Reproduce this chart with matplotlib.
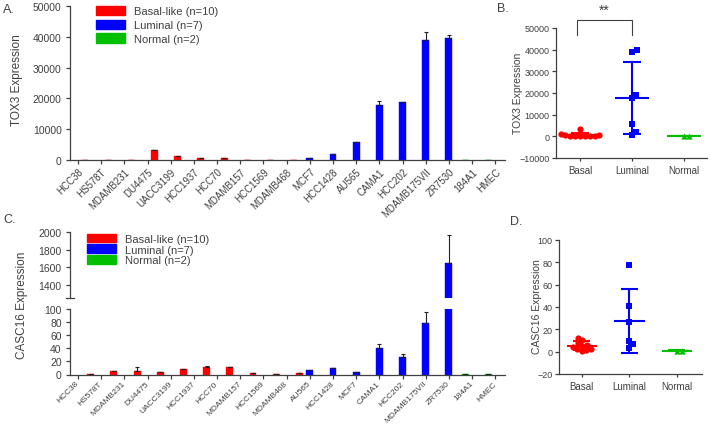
import numpy as np
import matplotlib
matplotlib.use("Agg")
import matplotlib.pyplot as plt
from matplotlib.patches import Patch

# ---------------- data ----------------
cells_A = ["HCC38", "HS578T", "MDAMB231", "DU4475", "UACC3199", "HCC1937", "HCC70",
           "MDAMB157", "HCC1569", "MDAMB468", "MCF7", "HCC1428", "AU565", "CAMA1",
           "HCC202", "MDAMB175VII", "ZR7530", "184A1", "HMEC"]
cells_C = ["HCC38", "HS578T", "MDAMB231", "DU4475", "UACC3199", "HCC1937", "HCC70",
           "MDAMB157", "HCC1569", "MDAMB468", "AU565", "HCC1428", "MCF7", "CAMA1",
           "HCC202", "MDAMB175VII", "ZR7530", "184A1", "HMEC"]
subtype = ["Basal"] * 10 + ["Luminal"] * 7 + ["Normal"] * 2

tox3_mean = [0, 0, 0, 3250, 1300, 540, 540, 0, 0, 0,
             540, 1840, 5740, 17900, 18960, 39000, 39650, 0, 0]
tox3_err = [0, 0, 0, 150, 80, 0, 0, 0, 0, 0,
            0, 0, 0, 1200, 0, 2500, 1050, 0, 0]

casc16_mean = [0.5, 5, 5.6, 4, 8.1, 12.2, 10.7, 2, 1.5, 2,
               6.6, 9.7, 3.5, 40.7, 27, 77.9, 1650, 0.5, 1]
casc16_err = [0, 0, 6.1, 0, 0.9, 1.0, 1.0, 0, 0, 0,
              0.5, 0, 0, 5.6, 4.5, 17.3, 320, 0, 0]

groups = ["Basal", "Luminal", "Normal"]
legend_labels = ["Basal-like (n=10)", "Luminal (n=7)", "Normal (n=2)"]
colors = {"Basal": "#ff0000", "Luminal": "#0000ff", "Normal": "#00c000"}
markers = {"Basal": "o", "Luminal": "s", "Normal": "^"}

# ---------------- figure ----------------
W, H = 714, 427
fig = plt.figure(figsize=(W / 100, H / 100), dpi=100)
TXT = "#404040"
SANS = ["Liberation Sans", "DejaVu Sans"]
NARROW = ["Liberation Sans Narrow", "Liberation Sans", "DejaVu Sans"]


def px_axes(l, t, r, b):
    return fig.add_axes([l / W, 1 - b / H, (r - l) / W, (b - t) / H])


def style_axes(ax, fam, fs, pad=1.5):
    for s in ["top", "right"]:
        ax.spines[s].set_visible(False)
    for s in ["left", "bottom"]:
        ax.spines[s].set_color(TXT)
        ax.spines[s].set_linewidth(0.9)
    ax.tick_params(colors=TXT, width=0.9, length=3, labelsize=fs, pad=pad)
    for lab in ax.get_yticklabels() + ax.get_xticklabels():
        lab.set_family(fam)


def bar_panel(ax, means, errs, cells, offsets, xlim):
    x = np.arange(len(cells), dtype=float)
    for g in groups:
        idx = [i for i, s in enumerate(subtype) if s == g]
        xs = x[idx] + offsets[g]
        m = np.array(means)[idx]
        e = np.array(errs)[idx]
        ax.bar(xs, m, width=0.3, color=colors[g], edgecolor=colors[g], linewidth=0.3)
        ax.errorbar(xs, m, yerr=[np.zeros_like(e), e], fmt="none", ecolor="#222222",
                    elinewidth=0.8, capsize=1.2, capthick=0.8)
    ax.set_xlim(*xlim)


# ---------- Panel A ----------
xlim = (-0.345, 18.42)
axA = px_axes(70, 7, 505, 161)
bar_panel(axA, tox3_mean, tox3_err, cells_A, {"Basal": 0.3, "Luminal": 0.0, "Normal": -0.3}, xlim)
axA.set_ylim(0, 50000)
axA.set_yticks([0, 10000, 20000, 30000, 40000, 50000])
axA.set_xticks(np.arange(len(cells_A)))
axA.set_xticklabels(cells_A, rotation=45, ha="right", va="top", rotation_mode="anchor")
style_axes(axA, SANS, 7.5, pad=3)
axA.tick_params(axis="x", pad=1.5, labelsize=7)
handles = [Patch(facecolor=colors[g], edgecolor=colors[g]) for g in groups]
axA.legend(handles, legend_labels, loc="upper left", bbox_to_anchor=(0.05, 1.03),
           frameon=False, prop={"family": SANS, "size": 8}, labelcolor=TXT,
           handlelength=2.6, handleheight=0.9, handletextpad=0.8, labelspacing=0.3,
           borderaxespad=0)
fig.text(17 / W, 1 - 80 / H, "TOX3 Expression", rotation=90, ha="center", va="center",
         fontsize=8.5, color=TXT, family=SANS)
fig.text(3 / W, 1 - 10 / H, "A.", fontsize=9, color=TXT, family=SANS, va="center")

# ---------- Panel C (broken axis) ----------
axCt = px_axes(70, 233, 505, 299)
axCb = px_axes(70, 310, 505, 375.5)
offC = {"Basal": 0.55, "Luminal": 0.0, "Normal": -0.3}
bar_panel(axCt, casc16_mean, casc16_err, cells_C, offC, xlim)
bar_panel(axCb, casc16_mean, casc16_err, cells_C, offC, xlim)
axCt.set_ylim(1250, 2000)
axCt.set_yticks([1400, 1600, 1800, 2000])
axCb.set_ylim(0, 100)
axCb.set_yticks([0, 20, 40, 60, 80, 100])
axCt.spines["bottom"].set_visible(False)
axCt.set_xticks([])
axCb.set_xticks(np.arange(len(cells_C)))
axCb.set_xticklabels(cells_C, rotation=45, ha="right", va="center", rotation_mode="anchor")
style_axes(axCt, SANS, 7.5, pad=3)
style_axes(axCb, SANS, 7.5, pad=3)
axCb.tick_params(axis="x", pad=2.5)
axCt.plot([-0.009, 0.009], [0, 0], transform=axCt.transAxes, color=TXT, lw=0.9, clip_on=False)
axCt.legend(handles, legend_labels, loc="upper left", bbox_to_anchor=(0.03, 1.04),
            frameon=False, prop={"family": SANS, "size": 8}, labelcolor=TXT,
            handlelength=2.6, handleheight=0.8, handletextpad=0.8, labelspacing=0.05,
            borderaxespad=0)
fig.text(22 / W, 1 - 305 / H, "CASC16 Expression", rotation=90, ha="center", va="center",
         fontsize=8.5, color=TXT, family=SANS)
fig.text(3 / W, 1 - 220 / H, "C.", fontsize=9, color=TXT, family=SANS, va="center")

# shrink C's category labels until they fit inside the figure
fs = 7.0
renderer = fig.canvas.get_renderer()
while fs > 5.5:
    for lab in axCb.get_xticklabels():
        lab.set_fontsize(fs)
    fig.canvas.draw()
    ymin = min(lab.get_window_extent(renderer).y0 for lab in axCb.get_xticklabels())
    if ymin >= 1.5:
        break
    fs -= 0.1


# ---------- scatter panels ----------
def swarm(vals, ppu_y, ppu_x, d):
    vals = np.asarray(vals, float)
    order = np.argsort(vals, kind="stable")
    placed = []
    offs = np.zeros(len(vals))
    cands = [0.0]
    for k in range(1, 120):
        cands += [k * 0.5, -k * 0.5]
    for i in order:
        y = vals[i] * ppu_y
        for c in cands:
            if all((c - px) ** 2 + (y - py) ** 2 >= d * d for px, py in placed):
                break
        placed.append((c, y))
        offs[i] = c / ppu_x
    return offs


def scatter_panel(ax, values, ylim, ppu_x, ymax_shown):
    ppu_y = ax.get_position().height * H / (ylim[1] - ylim[0])
    for k, g in enumerate(groups):
        v = np.array([values[i] for i, s in enumerate(subtype) if s == g], float)
        v = v[v <= ymax_shown]
        offs = swarm(v, ppu_y, ppu_x, 4.6)
        ax.scatter(k + offs, v, s=20, marker=markers[g], color=colors[g], zorder=3,
                   linewidths=0)
        m, sd = v.mean(), v.std(ddof=1)
        ax.hlines(m, k - 0.32, k + 0.32, color=colors[g], lw=1.5, zorder=2)
        ax.vlines(k, m - sd, m + sd, color=colors[g], lw=1.5, zorder=2)
        ax.hlines([m - sd, m + sd], k - 0.18, k + 0.18, color=colors[g], lw=1.5, zorder=2)
    ax.set_ylim(*ylim)
    ax.set_xticks(range(3))
    ax.set_xticklabels(["Basal", "Luminal", "Normal"])
    style_axes(ax, NARROW, 7)
    ax.tick_params(axis="x", length=2, pad=3)
    ax.tick_params(axis="y", length=2.5)


# Panel B
axB = px_axes(556, 29, 707, 159)
axB.set_xlim(-0.46, 2.44)
scatter_panel(axB, tox3_mean, (-10000, 50000), 52.0, 1e9)
axB.set_yticks(np.arange(-10000, 50001, 10000))
style_axes(axB, NARROW, 6.5)
axB.tick_params(axis="x", length=2, pad=3, labelsize=7)
axB.plot([-0.06, -0.06, 0.99, 0.99], [46700, 53600, 53600, 46700], color=TXT, lw=0.8,
         clip_on=False)
axB.text(0.465, 55000, "**", ha="center", va="bottom", fontsize=10, color=TXT, family=SANS)
fig.text(518 / W, 1 - 93 / H, "TOX3 Expression", rotation=90, ha="center", va="center",
         fontsize=7.5, color=TXT, family=NARROW)
fig.text(497 / W, 1 - 9 / H, "B.", fontsize=9, color=TXT, family=SANS, va="center")

# Panel D
axD = px_axes(559, 241, 702, 375)
axD.set_xlim(-0.48, 2.53)
scatter_panel(axD, casc16_mean, (-20, 100), 47.5, 100)
axD.set_yticks(np.arange(-20, 101, 20))
style_axes(axD, NARROW, 6.5)
axD.tick_params(axis="x", length=2, pad=3, labelsize=7)
fig.text(537 / W, 1 - 307 / H, "CASC16 Expression", rotation=90, ha="center", va="center",
         fontsize=7.5, color=TXT, family=NARROW)
fig.text(510 / W, 1 - 222 / H, "D.", fontsize=9, color=TXT, family=SANS, va="center")

fig.savefig("out.png", dpi=100)
